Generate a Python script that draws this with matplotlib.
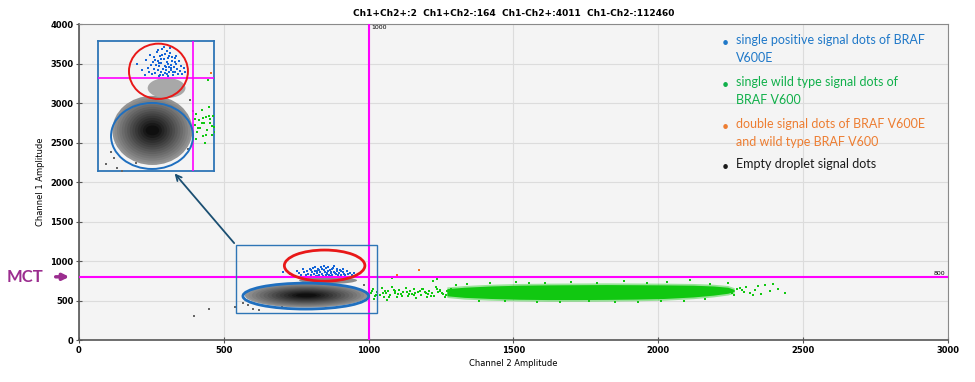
import numpy as np
import matplotlib
matplotlib.use("Agg")
import matplotlib.pyplot as plt
from matplotlib.patches import Ellipse, Rectangle

# droplet counts shown in the header
title_txt = "Ch1+Ch2+:2  Ch1+Ch2-:164  Ch1-Ch2+:4011  Ch1-Ch2-:112460"
ch1_threshold = 800
ch2_threshold = 1000

# empty droplet cloud (Ch2 amplitude, Ch1 amplitude) - extent of nested density levels
empty_cx = 785
empty_cy = 565
empty_half_w = [212, 200, 188, 175, 162, 148, 134, 120, 106, 92, 78, 64, 50, 36]
empty_half_h = [155, 145, 136, 126, 116, 106, 96, 86, 76, 66, 56, 45, 34, 22]

# rain between empty droplets and positive droplets
rain_cx = 860
rain_cy = 755
rain_half_w = 100
rain_half_h = 45

# single positive BRAF V600E droplets (Ch1+Ch2-)
blue_x = [705, 728, 745, 752, 760, 768, 772, 778, 783, 788, 792, 796, 800, 803, 808,
          812, 815, 818, 822, 826, 830, 833, 836, 840, 843, 846, 850, 853, 857, 860,
          864, 867, 871, 875, 878, 882, 886, 890, 894, 898, 902, 906, 910, 915, 920,
          925, 930, 936, 942, 950, 958, 815, 845, 872, 830, 860, 890, 800, 880, 910,
          825, 852, 868, 895, 838, 905, 855, 820, 885, 870]
blue_y = [862, 835, 812, 880, 845, 826, 905, 858, 818, 872, 840, 895, 823, 860, 915,
          838, 878, 810, 852, 898, 828, 866, 930, 842, 815, 884, 856, 906, 834, 870,
          818, 890, 848, 826, 912, 860, 836, 878, 815, 850, 888, 828, 862, 840, 818,
          876, 832, 852, 820, 845, 828, 925, 940, 900, 885, 922, 896, 882, 935, 900,
          812, 822, 808, 826, 904, 870, 850, 868, 846, 864]

# single wild type droplets (Ch1-Ch2+): dense band envelope
band_x = [1270, 1330, 1420, 1520, 1620, 1720, 1820, 1920, 2020, 2120, 2190, 2240, 2262]
band_hi = [650, 668, 684, 694, 698, 700, 702, 700, 698, 694, 684, 668, 640]
band_lo = [560, 540, 526, 516, 512, 512, 514, 518, 526, 545, 568, 592, 615]

# single wild type droplets outside the dense band
green_x = [1008, 1015, 1022, 1030, 1038, 1045, 1052, 1060, 1068, 1075, 1082, 1090,
           1098, 1105, 1112, 1120, 1128, 1135, 1142, 1150, 1158, 1165, 1172, 1180,
           1188, 1195, 1202, 1210, 1218, 1225, 1232, 1240, 1248, 1255, 1262, 1270,
           1278, 1286, 1080, 1221, 1235, 1300, 1018, 1055, 1092, 1140, 1062, 1102,
           1012, 1026, 1048, 1070, 1086, 1115, 1132, 1155, 1176, 1198, 1214, 1236,
           1252, 1266, 1160, 1185, 1205, 1245,
           2240, 2255, 2270, 2281, 2295, 2304, 2315, 2327, 2335, 2344, 2355, 2368,
           2385, 2397, 2412, 2437, 2262, 2290,
           1340, 1420, 1510, 1555, 1610, 1700, 1790, 1880, 1960, 2030, 2110, 2180,
           1380, 1470, 1580, 1660, 1760, 1850, 1930, 2010, 2090, 2160]
green_y = [590, 640, 560, 612, 575, 655, 540, 600, 626, 566, 668, 596, 546, 630, 582,
           606, 662, 556, 616, 586, 642, 532, 602, 572, 652, 612, 548, 626, 592, 562,
           672, 602, 636, 578, 548, 616, 592, 652, 789, 747, 772, 700, 525, 620, 618,
           585, 510, 585,
           615, 575, 600, 545, 630, 560, 610, 570, 625, 590, 555, 640, 600, 565, 600,
           650, 580, 615,
           718, 600, 645, 658, 610, 675, 590, 570, 632, 687, 580, 696, 620, 709, 640,
           599, 565, 628,
           712, 720, 740, 728, 716, 735, 722, 742, 726, 730, 760, 708,
           495, 488, 484, 478, 492, 480, 486, 495, 500, 525]

# double positive droplets (Ch1+Ch2+)
orange_x = [1097, 1175]
orange_y = [823, 882]

# isolated empty droplets outside the main cloud
grey_x = [398, 448, 538, 565, 582, 600, 622, 985, 1000, 975, 700]
grey_y = [300, 396, 414, 470, 440, 398, 382, 700, 652, 480, 420]

legend_lines = ["single positive signal dots of BRAF\nV600E",
                "single wild type signal dots of\nBRAF V600",
                "double signal dots of BRAF V600E\nand wild type BRAF V600",
                "Empty droplet signal dots"]
legend_first_y = [3759, 3228, 2696, 2190]
legend_colors = ["#1f78c8", "#10b04a", "#ed7d31", "#1a1a1a"]

GREEN = "#11c811"
BLUE = "#1565d8"
MAGENTA = "#ff00ff"
BOXBLUE = "#2e75b6"


def draw_droplets(a, dot, rain_col):
    # empty cloud as nested density levels, lighter at the rim
    shades = np.linspace(0.58, 0.06, len(empty_half_w))
    for w, h, s in zip(empty_half_w, empty_half_h, shades):
        a.add_patch(Ellipse((empty_cx, empty_cy), 2 * w, 2 * h,
                            color=str(s), lw=0, zorder=2))
    a.add_patch(Ellipse((rain_cx, rain_cy), 2 * rain_half_w, 2 * rain_half_h,
                        color=rain_col, lw=0, zorder=2))
    hi = np.array(band_hi)
    lo = np.array(band_lo)
    a.fill_between(band_x, lo - 22, hi + 22, color=GREEN, alpha=0.4, lw=0, zorder=2)
    a.fill_between(band_x, lo, hi, color=GREEN, lw=0, zorder=2)
    a.scatter(green_x, green_y, s=dot, color=GREEN, marker="s", lw=0, zorder=3)
    a.scatter(grey_x, grey_y, s=dot, color="#666666", marker="s", lw=0, zorder=3)
    a.scatter(blue_x, blue_y, s=dot, color=BLUE, marker="s", lw=0, zorder=4)
    a.scatter(orange_x, orange_y, s=dot, color="#f07020", marker="s", lw=0, zorder=4)


fig = plt.figure(figsize=(9.75, 3.82), dpi=100)
ax = fig.add_axes([0.0810, 0.1099, 0.8913, 0.8272])
ax.set_facecolor("#f4f4f4")
ax.set_xlim(0, 3000)
ax.set_ylim(0, 4000)
ax.set_xticks(range(0, 3001, 500))
ax.set_yticks(range(0, 4001, 500))
ax.grid(color="#dcdcdc", lw=0.8)
ax.set_axisbelow(True)
for side in ["left", "bottom"]:
    ax.spines[side].set_color("#555555")
    ax.spines[side].set_linewidth(1.2)
for side in ["top", "right"]:
    ax.spines[side].set_color("#8a8a8a")
ax.tick_params(labelsize=6, length=4, width=0.8, color="#555555", direction="inout", pad=2)
for lab in ax.get_xticklabels() + ax.get_yticklabels():
    lab.set_fontweight("bold")
ax.set_title(title_txt, fontsize=6.5, fontweight="bold", pad=6)
ax.set_xlabel("Channel 2 Amplitude", fontsize=6, labelpad=3)
ax.set_ylabel("Channel 1 Amplitude", fontsize=6, labelpad=4)

draw_droplets(ax, 4, "#8c8c8c")

ax.axvline(ch2_threshold, color=MAGENTA, lw=1.5, zorder=5)
ax.axhline(ch1_threshold, color=MAGENTA, lw=1.5, zorder=5)
ax.text(ch2_threshold + 8, 3985, str(ch2_threshold), fontsize=4.5, va="top", ha="left")
ax.text(2990, ch1_threshold + 15, str(ch1_threshold), fontsize=4.5, va="bottom", ha="right")

ax.add_patch(Ellipse((848, 942), 278, 394, fill=False, ec="#e81818", lw=2, zorder=6))
ax.add_patch(Ellipse((783, 556), 434, 328, fill=False, ec="#1f6fbf", lw=2, zorder=6))
ax.add_patch(Rectangle((542, 342), 488, 858, fill=False, ec=BOXBLUE, lw=1, zorder=6))

ax.annotate("", xy=(324, 2135), xytext=(542, 1200),
            arrowprops=dict(arrowstyle="->", color="#1b4f72", lw=1.3, mutation_scale=10),
            zorder=7)

# MCT marker on the Ch1 threshold
ax.annotate("", xy=(-0.008, ch1_threshold), xytext=(-0.03, ch1_threshold),
            xycoords=("axes fraction", "data"),
            arrowprops=dict(arrowstyle="-|>", color="#9b2d8f", lw=2.5, mutation_scale=9),
            annotation_clip=False)
ax.text(-0.041, ch1_threshold, "MCT", transform=ax.get_yaxis_transform(),
        ha="right", va="center", fontsize=12, fontweight="bold", color="#9b2d8f",
        family="Lato")

# legend text block, bullet on the first line of each entry
for txt, y, c in zip(legend_lines, legend_first_y, legend_colors):
    ax.text(2220, y, "\u2022", color=c, fontsize=9, va="center", ha="left", family="Lato")
    ax.text(2268, y + 110, txt, color=c, fontsize=9, va="top", ha="left", family="Lato",
            linespacing=1.6)

# zoomed inset of the droplet clusters
ins = fig.add_axes([0.1005, 0.5524, 0.119, 0.3403])
ins.set_facecolor("none")
ins.set_xlim(497, 1111)
ins.set_ylim(383, 966)
ins.set_xticks([])
ins.set_yticks([])
for sp in ins.spines.values():
    sp.set_color(BOXBLUE)
    sp.set_linewidth(1.3)
draw_droplets(ins, 1.5, "#a8a8a8")
ins.axvline(ch2_threshold, color=MAGENTA, lw=1.2, zorder=5)
ins.axhline(ch1_threshold, color=MAGENTA, lw=1.2, zorder=5)
ins.add_patch(Ellipse((817, 830), 312, 248, fill=False, ec="#e81818", lw=1.4, zorder=6))
ins.add_patch(Ellipse((783, 540), 434, 296, fill=False, ec="#1f6fbf", lw=1.4, zorder=6))

fig.savefig("out.png", dpi=100)
